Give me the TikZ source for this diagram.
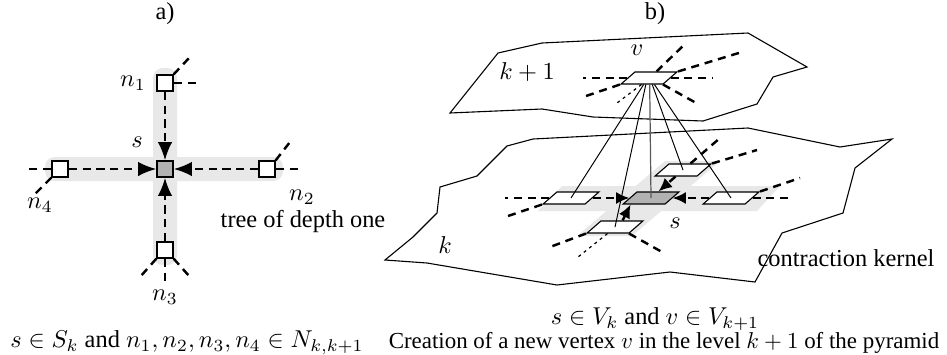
\documentclass[tikz,border=0pt]{standalone}
\usepackage{fontspec}
\setmainfont{Liberation Serif}
\usetikzlibrary{arrows.meta,calc}

\tikzset{
  sq/.style={draw, fill=white, minimum size=6.6pt, inner sep=0pt, line width=0.5pt},
  para/.style={draw, fill=white, minimum width=17.2pt, minimum height=4.9pt,
    inner sep=0pt, xslant=1.15, line width=0.45pt},
  dline/.style={line width=1pt, dash pattern=on 3.3pt off 2.4pt},
  fline/.style={line width=0.5pt, dash pattern=on 1.2pt off 1.6pt},
  band/.style={fill=gray!18},
  plane/.style={line width=0.45pt, line join=miter},
  bigtip/.style={-{Latex[length=7.5pt,width=6pt]}},
  smalltip/.style={-{Latex[length=5.5pt,width=5pt]}},
  captext/.style={inner sep=1pt},
}

\begin{document}
\begin{tikzpicture}[x=0.41pt, y=-0.41pt]
  \useasboundingbox (0,0) rectangle (947,354);
  % a) tree of depth one
  \node (ta) at (165,14) {a)};
  \fill[band, rounded corners=4pt] (153,68) rectangle (177,265);
  \fill[band, rounded corners=4pt] (45,157) rectangle (283,181);
  \node[sq, fill=gray!60] (s) at (165,169) {};
  \node[sq] (n1) at (165,83) {};
  \node[sq] (n2) at (267,169) {};
  \node[sq] (n3) at (165,250) {};
  \node[sq] (n4) at (60,169) {};
  \draw[dline, bigtip] (n1) -- (s);
  \draw[dline, bigtip] (n2) -- (s);
  \draw[dline, bigtip] (n3) -- (s);
  \draw[dline, bigtip] (n4) -- (s);
  % loose ends of the tree
  \coordinate (n1e) at (200,83);
  \coordinate (n1ne) at (190,57);
  \coordinate (n2e) at (302,169);
  \coordinate (n2ne) at (290,142);
  \coordinate (n4w) at (25,169);
  \coordinate (n4sw) at (34,195);
  \coordinate (n3sw) at (140,277);
  \coordinate (n3s) at (165,281);
  \coordinate (n3se) at (190,277);
  \draw[dline] (n1.east) -- (n1e);
  \draw[dline] (n1.north east) -- (n1ne);
  \draw[dline] (n2.east) -- (n2e);
  \draw[dline] (n2.north east) -- (n2ne);
  \draw[dline] (n4.west) -- (n4w);
  \draw[dline] (n4.south west) -- (n4sw);
  \draw[dline] (n3.south west) -- (n3sw);
  \draw[dline] (n3.south) -- (n3s);
  \draw[dline] (n3.south east) -- (n3se);
  \node (ln1) at (133,83) {$n_1$};
  \node (ls) at (137,142) {$s$};
  \node (ln2) at (302,197) {$n_2$};
  \node (ln4) at (40,205) {$n_4$};
  \node (ln3) at (165,297) {$n_3$};
  \node (tree) at (303,222) {tree of depth one};

  % b) the two levels of the pyramid
  \node (tb) at (655,14) {b)};
  \draw[plane] (450,113) -- (498,53) -- (542,43) -- (748,33) -- (807,67) -- (773,77)
    -- (757,104) -- (703,121) -- (593,117) -- (542,109) -- cycle;
  \draw[plane] (385,260) -- (413,237) -- (437,213) -- (440,187) -- (477,176) -- (507,146)
    -- (533,139) -- (748,128) -- (840,147) -- (892,139) -- (855,168) -- (843,213)
    -- (782,233) -- (755,282) -- (670,272) -- (557,285) -- (427,263) -- cycle;
  \fill[band] (538,211) -- (562,186) -- (780,186) -- (757,211) -- cycle;
  \fill[band] (577,236) -- (665,161) -- (720,161) -- (632,236) -- cycle;
  % level k
  \node[para, fill=gray!60] (c) at (651,198) {};
  \node[para] (l) at (571,198) {};
  \node[para] (r) at (731,198) {};
  \node[para] (bk) at (683,170) {};
  \node[para] (f) at (615,227) {};
  % level k+1
  \node[para] (v) at (649,78) {};
  % links between the levels
  \draw[line width=0.4pt] ($(v.south west)!0.55!(v.south east)$) -- (l.center);
  \draw[line width=0.4pt] ($(v.south west)!0.6!(v.south east)$) -- (f.center);
  \draw[line width=0.5pt, gray!70!black] ($(v.south west)!0.69!(v.south east)$) -- (c.center);
  \draw[line width=0.4pt] ($(v.south west)!0.75!(v.south east)$) -- (bk.center);
  \draw[line width=0.4pt] ($(v.south west)!0.8!(v.south east)$) -- (r.center);
  % contraction
  \draw[dline, smalltip] (l) -- (c);
  \draw[dline, smalltip] (r) -- (c);
  \draw[dline, smalltip] (bk.south) -- (c.north);
  \draw[dline, smalltip] (f.north) -- ($(c.south west)!0.2!(c.south east)$);
  % loose ends
  \coordinate (vw) at (583,78);
  \coordinate (ve) at (713,78);
  \coordinate (vsw) at (583,97);
  \coordinate (vne) at (742,52);
  \coordinate (vs) at (617,103);
  \coordinate (vn) at (685,44);
  \coordinate (vse) at (698,104);
  \coordinate (lw) at (505,198);
  \coordinate (lsw) at (505,217);
  \coordinate (re) at (793,198);
  \coordinate (rne) at (800,178);
  \coordinate (bn) at (720,138);
  \coordinate (bne) at (757,150);
  \coordinate (fsw) at (550,247);
  \coordinate (fs) at (578,257);
  \coordinate (fse) at (662,252);
  \draw[dline] (v.west) -- (vw);
  \draw[dline] (v.east) -- (ve);
  \draw[dline] (v.south west) -- (vsw);
  \draw[dline] (v.north east) -- (vne);
  \draw[fline] (v.south) -- (vs);
  \draw[dline] (v.north) -- (vn);
  \draw[dline] (v.south east) -- (vse);
  \draw[dline] (l.west) -- (lw);
  \draw[dline] (l.south west) -- (lsw);
  \draw[dline] (r.east) -- (re);
  \draw[dline] (r.north east) -- (rne);
  \draw[dline] (bk.north) -- (bn);
  \draw[dline] (bk.north east) -- (bne);
  \draw[dline] (f.south west) -- (fsw);
  \draw[fline] (f.south) -- (fs);
  \draw[dline] (f.south east) -- (fse);
  \node (lk1) at (527,72) {$k+1$};
  \node (lv) at (637,50) {$v$};
  \node (lk) at (445,245) {$k$};
  \node (lsb) at (675,223) {$s$};
  \node (ker) at (846,258) {contraction kernel};
  \node[captext] (capv) at (655,319) {$s\in V_k$ and $v\in V_{k+1}$};
  % captions
  \node[captext] (capa) at (187,343) {$s\in S_k$ and $n_1,n_2,n_3,n_4\in N_{k,k+1}$};
  \node[captext, scale=0.94] (capb) at (664,343) {Creation of a new vertex $v$ in the level $k+1$ of the pyramid};
\end{tikzpicture}
\end{document}
